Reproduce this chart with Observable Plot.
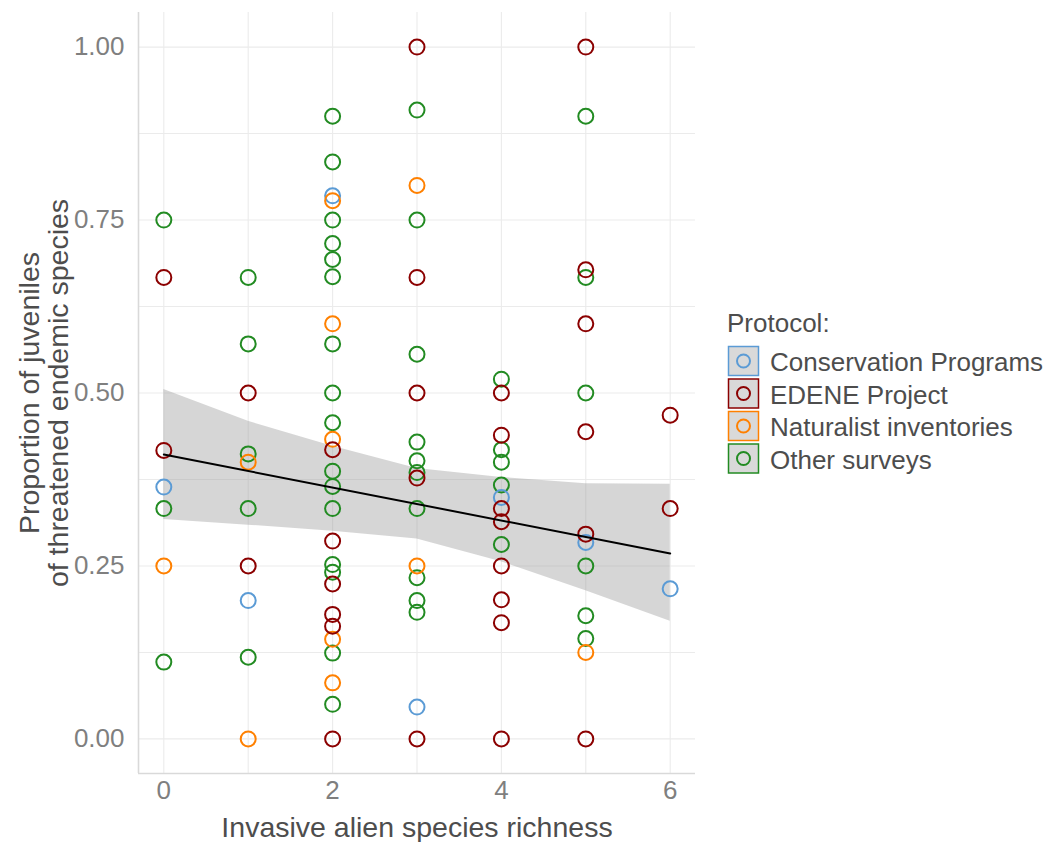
<!DOCTYPE html>
<html>
<head>
<meta charset="utf-8">
<script src="https://cdn.jsdelivr.net/npm/d3@7"></script>
<script src="https://cdn.jsdelivr.net/npm/@observablehq/plot@0.6"></script>
<style>
  html, body { margin: 0; padding: 0; background: white; }
  #wrap { position: relative; width: 1046px; height: 842px; font-family: "Liberation Sans", Arial, sans-serif; }
  #legend { position: absolute; left: 720px; top: 290px; }
</style>
</head>
<body>
<div id="wrap"></div>
<script>
// ---- data ----
const protocols = ["Conservation Programs", "EDENE Project", "Naturalist inventories", "Other surveys"];
const protocolColors = ["#5b9bd5", "#8b0000", "#ff8000", "#228b22"];

// [richness, proportion]
const otherSurveys = [
  [0,0.75],[0,0.333],[0,0.111],
  [1,0.667],[1,0.571],[1,0.412],[1,0.333],[1,0.118],
  [2,0.9],[2,0.834],[2,0.75],[2,0.716],[2,0.693],[2,0.668],[2,0.571],[2,0.5],[2,0.457],[2,0.387],[2,0.365],[2,0.333],[2,0.252],[2,0.241],[2,0.124],[2,0.05],
  [3,0.909],[3,0.75],[3,0.556],[3,0.429],[3,0.402],[3,0.385],[3,0.333],[3,0.233],[3,0.2],[3,0.183],
  [4,0.52],[4,0.418],[4,0.4],[4,0.367],[4,0.281],
  [5,0.9],[5,0.667],[5,0.5],[5,0.25],[5,0.178],[5,0.145]
];
const conservationPrograms = [
  [0,0.364],[1,0.2],[2,0.785],[3,0.046],[4,0.349],[5,0.284],[6,0.217]
];
const naturalistInventories = [
  [0,0.25],[1,0.4],[1,0],[2,0.778],[2,0.6],[2,0.433],[2,0.144],[2,0.081],[3,0.8],[3,0.25],[5,0.125]
];
const edeneProject = [
  [0,0.667],[0,0.417],
  [1,0.5],[1,0.25],
  [2,0.418],[2,0.286],[2,0.224],[2,0.18],[2,0.163],[2,0],
  [3,1],[3,0.667],[3,0.5],[3,0.377],[3,0],
  [4,0.5],[4,0.439],[4,0.333],[4,0.314],[4,0.25],[4,0.201],[4,0.168],[4,0],
  [5,1],[5,0.678],[5,0.6],[5,0.444],[5,0.296],[5,0],
  [6,0.468],[6,0.333]
];

// linear fit and its confidence band
const fitX = [0, 6];
const fitY = [0.411, 0.268];
const bandX = [0, 1, 2, 3, 4, 5, 6];
const bandLow = [0.317, 0.309, 0.300, 0.289, 0.256, 0.214, 0.170];
const bandHigh = [0.505, 0.459, 0.423, 0.391, 0.378, 0.369, 0.368];

const xTicks = [0, 2, 4, 6];
const yTicks = [0, 0.25, 0.5, 0.75, 1];
const xGrid = [0, 1, 2, 3, 4, 5, 6];
const yGrid = [0, 0.125, 0.25, 0.375, 0.5, 0.625, 0.75, 0.875, 1];
const xDomain = [-0.3, 6.3];
const yDomain = [-0.05, 1.05];
const xTitle = "Invasive alien species richness";
const yTitle = "Proportion of juveniles\nof threatened endemic species";
const legendTitle = "Protocol:";

// ---- build tables ----
const toRows = (arr, p) => arr.map(([x, y]) => ({x, y, protocol: p}));
const points = [
  ...toRows(otherSurveys, protocols[3]),
  ...toRows(conservationPrograms, protocols[0]),
  ...toRows(naturalistInventories, protocols[2]),
  ...toRows(edeneProject, protocols[1])
];
const fit = fitX.map((x, i) => ({x, y: fitY[i]}));
const band = bandX.map((x, i) => ({x, lo: bandLow[i], hi: bandHigh[i]}));

const gridColor = "#ebebeb";
const chart = Plot.plot({
  width: 1046,
  height: 842,
  marginLeft: 138,
  marginRight: 351,
  marginTop: 12,
  marginBottom: 69,
  style: {fontFamily: "'Liberation Sans', Arial, sans-serif", background: "white", overflow: "visible"},
  x: {domain: xDomain},
  y: {domain: yDomain},
  color: {domain: protocols, range: protocolColors},
  marks: [
    Plot.ruleY(yGrid, {stroke: gridColor, strokeWidth: 1.1}),
    Plot.ruleX(xGrid, {stroke: gridColor, strokeWidth: 1.1}),
    Plot.ruleX([xDomain[0]], {stroke: "#d9d9d9", strokeWidth: 1.6}),
    Plot.ruleY([yDomain[0]], {stroke: "#d9d9d9", strokeWidth: 1.6}),
    Plot.areaY(band, {x: "x", y1: "lo", y2: "hi", fill: "#999999", fillOpacity: 0.4}),
    Plot.dot(points, {x: "x", y: "y", stroke: "protocol", fill: "none", r: 7.5, strokeWidth: 2}),
    Plot.line(fit, {x: "x", y: "y", stroke: "black", strokeWidth: 2}),
    Plot.axisX({ticks: xTicks, tickSize: 0, tickPadding: 7, fontSize: 26, color: "#7f7f7f", label: null, tickFormat: d3.format("d")}),
    Plot.axisY({ticks: yTicks, tickSize: 0, tickPadding: 14, fontSize: 26, color: "#7f7f7f", label: null, tickFormat: d3.format(".2f")}),
    Plot.text([xTitle], {frameAnchor: "bottom", dy: 54, fontSize: 28.5, fill: "#4d4d4d", lineAnchor: "middle"}),
    Plot.text([yTitle], {frameAnchor: "left", textAnchor: "middle", rotate: -90, dx: -94, fontSize: 28.5, fill: "#4d4d4d", lineHeight: 1})
  ]
});
const wrap = document.getElementById("wrap");
wrap.appendChild(chart);

// ---- legend ----
const lg = d3.select(wrap).append("svg")
  .attr("id", "legend")
  .attr("width", 326).attr("height", 200)
  .style("font-family", "'Liberation Sans', Arial, sans-serif");
lg.append("text").attr("x", 7).attr("y", 42)
  .attr("font-size", 26).attr("fill", "#4d4d4d").text(legendTitle);
const step = 32.5;
protocols.forEach((p, i) => {
  const top = 56 + i * step;
  const g = lg.append("g");
  g.append("rect").attr("x", 8.5).attr("y", top + 0.5).attr("width", 30).attr("height", 29)
    .attr("fill", "#d9d9d9").attr("stroke", protocolColors[i]).attr("stroke-width", 1.5);
  g.append("circle").attr("cx", 23.5).attr("cy", top + 15).attr("r", 6.5)
    .attr("fill", "none").attr("stroke", protocolColors[i]).attr("stroke-width", 2);
  g.append("text").attr("x", 50).attr("y", top + 25)
    .attr("font-size", 26).attr("fill", "#4d4d4d").text(p);
});
</script>
</body>
</html>
